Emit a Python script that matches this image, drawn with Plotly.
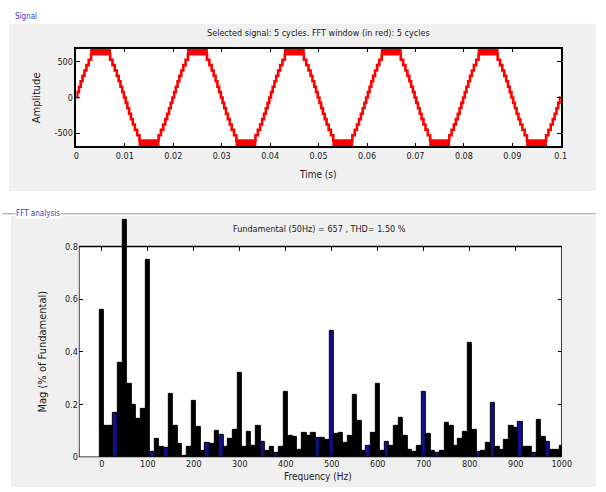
import plotly.graph_objects as go

# ---------------- signal: multilevel staircase, 5 cycles at 50 Hz ----------------
n_cycles = 5
f_fund = 50.0
step_volts = 76.0
# switching angles (deg) of the first quarter cycle, one per level (levels 1..8)
switch_deg = [3.2, 9.5, 16.0, 22.7, 29.8, 37.3, 45.8, 54.5]
# toggles between the two top levels near the crest (rising half of the crest)
peak_toggle_deg = [56.0, 57.4, 58.6, 60.2, 61.4, 63.0, 64.2, 66.0, 67.2,
                   69.0, 70.4, 73.5, 74.6, 78.5, 79.6, 84.5, 85.6]

# ---------------- FFT magnitudes (% of fundamental) every 10 Hz ----------------
freq_hz = list(range(0, 1001, 10))
mag_pct = [
    0.56, 0.12, 0.12, 0.17, 0.36, 0.90, 0.28, 0.20, 0.146, 0.184,
    0.75, 0.02, 0.07, 0.04, 0.035, 0.24, 0.12, 0.05, 0.004, 0.04,
    0.215, 0.115, 0.025, 0.055, 0.05, 0.10, 0.085, 0.04, 0.07, 0.105,
    0.32, 0.04, 0.095, 0.045, 0.12, 0.06, 0.023, 0.038, 0.018, 0.038,
    0.25, 0.083, 0.076, 0.03, 0.093, 0.083, 0.093, 0.072, 0.072, 0.067,
    0.48, 0.089, 0.093, 0.053, 0.083, 0.237, 0.137, 0.023, 0.045, 0.091,
    0.28, 0.023, 0.06, 0.045, 0.12, 0.15, 0.083, 0.03, 0.02, 0.045,
    0.25, 0.09, 0.023, 0.018, 0.023, 0.13, 0.12, 0.045, 0.07, 0.098,
    0.434, 0.105, 0.02, 0.023, 0.053, 0.206, 0.038, 0.03, 0.068, 0.12,
    0.11, 0.136, 0.038, 0.038, 0.016, 0.143, 0.076, 0.057, 0.03, 0.03,
    0.045,
]
blue_bins_hz = [30, 110, 140, 230, 260, 350, 380, 470, 500, 580,
                620, 700, 730, 820, 850, 910, 940, 970]

time_ticks = [0, 0.01, 0.02, 0.03, 0.04, 0.05, 0.06, 0.07, 0.08, 0.09, 0.1]
time_labels = ["0", "0.01", "0.02", "0.03", "0.04", "0.05", "0.06", "0.07", "0.08", "0.09", "0.1"]
amp_ticks = [-500, 0, 500]
freq_ticks = list(range(0, 1001, 100))
mag_ticks = [0, 0.2, 0.4, 0.6, 0.8]
mag_labels = ["0", "0.2", "0.4", "0.6", "0.8"]

title_signal = "Selected signal: 5 cycles. FFT window (in red): 5 cycles"
title_fft = "Fundamental (50Hz) = 657 , THD= 1.50 %"

# ---------------- build the staircase ----------------
quarter = [(0.0, 0)] + [(a, k + 1) for k, a in enumerate(switch_deg)]
top = len(switch_deg) + 1
for i, a in enumerate(peak_toggle_deg):
    quarter.append((a, top if i % 2 == 0 else top - 1))
half = list(quarter)
for i in range(len(quarter) - 2, -1, -1):
    half.append((180.0 - quarter[i + 1][0], quarter[i][1]))
cycle = half + [(180.0 + a, -lv) for a, lv in half]

t_sig, v_sig = [], []
for c in range(n_cycles):
    for a, lv in cycle:
        t_sig.append((c * 360.0 + a) / 360.0 / f_fund)
        v_sig.append(lv * step_volts)
t_sig.append(n_cycles / f_fund)
v_sig.append(v_sig[-1])

# ---------------- figure ----------------
W, H = 606, 492
FONT = "Liberation Sans Narrow, DejaVu Sans Condensed, Arial Narrow, Liberation Sans, sans-serif"
PANEL = "#f0f0f0"
TXT = "#1b1b1b"

fig = go.Figure()

fig.add_trace(go.Scatter(
    x=t_sig, y=v_sig, mode="lines", line=dict(color="#ff0000", width=2.6, shape="hv"),
    xaxis="x", yaxis="y", hoverinfo="skip", showlegend=False))

bar_colors = ["#10108c" if f in blue_bins_hz else "#000000" for f in freq_hz]
fig.add_trace(go.Bar(
    x=freq_hz, y=mag_pct, width=10, marker=dict(color=bar_colors, line=dict(color="#000000", width=1)),
    xaxis="x2", yaxis="y2", hoverinfo="skip", showlegend=False))

# carrier for the top tick row of the spectrum frame
fig.add_trace(go.Scatter(x=[0], y=[0], mode="markers", marker=dict(opacity=0),
                         xaxis="x3", yaxis="y2", hoverinfo="skip", showlegend=False))

def px_x(p):
    return p / W

def px_y(p):
    return 1 - p / H

tick_font = dict(family=FONT, size=9, color=TXT)
axis_common = dict(ticks="inside", ticklen=4, tickwidth=1, tickcolor="#000", showgrid=False,
                   zeroline=False, tickfont=tick_font)

y_fft_top = 0.92  # room for the fundamental bar above the frame

fig.update_layout(
    width=W, height=H, margin=dict(l=0, r=0, t=0, b=0),
    paper_bgcolor="#ffffff", plot_bgcolor="rgba(0,0,0,0)",
    bargap=0, showlegend=False,
    xaxis=dict(domain=[px_x(75), px_x(570)], range=[0, 0.1], anchor="y",
               tickvals=time_ticks, ticktext=time_labels,
               showline=True, linecolor="#000", linewidth=1.5, mirror="ticks", **axis_common),
    yaxis=dict(domain=[px_y(148), px_y(49)], range=[-690, 690], anchor="x",
               tickvals=amp_ticks, ticktext=["-500", "0", "500"],
               showline=True, linecolor="#000", linewidth=1.5, mirror="ticks", **axis_common),
    xaxis2=dict(domain=[px_x(77.5), px_x(571)], range=[-50, 1000], anchor="y2",
                tickvals=freq_ticks, ticktext=[str(v) for v in freq_ticks],
                showline=False, **axis_common),
    yaxis2=dict(domain=[px_y(462), px_y(462 - y_fft_top * 266.25)], range=[0, y_fft_top], anchor="x2",
                tickvals=mag_ticks, ticktext=mag_labels,
                showline=False, mirror="ticks", **axis_common),
    xaxis3=dict(overlaying="x2", anchor="free", position=px_y(249), side="top",
                range=[-50, 1000], tickvals=freq_ticks, showticklabels=False,
                showline=False, ticks="inside", ticklen=4, tickcolor="#000",
                showgrid=False, zeroline=False),
)

shapes = [
    # panel backgrounds
    dict(type="rect", xref="paper", yref="paper", x0=px_x(6), x1=1, y0=px_y(193), y1=px_y(24),
         fillcolor=PANEL, line=dict(width=0), layer="below"),
    dict(type="rect", xref="paper", yref="paper", x0=px_x(8), x1=1, y0=0, y1=px_y(218),
         fillcolor=PANEL, line=dict(width=0), layer="below"),
    dict(type="line", xref="paper", yref="paper", x0=0, x1=1, y0=px_y(216), y1=px_y(216),
         line=dict(color="#9a9a9a", width=1), layer="below"),
    # white plotting areas
    dict(type="rect", xref="x domain", yref="y domain", x0=0, x1=1, y0=0, y1=1,
         fillcolor="#ffffff", line=dict(width=0), layer="below"),
    dict(type="rect", xref="x2", yref="y2", x0=-50, x1=1000, y0=0, y1=0.8,
         fillcolor="#ffffff", line=dict(color="#000", width=1.5), layer="below"),
]
fig.update_layout(shapes=shapes)

label_font = dict(family=FONT, size=9, color=TXT)
annotations = [
    dict(text="Signal", x=px_x(10), y=px_y(17), xanchor="left", yanchor="middle",
         font=dict(family=FONT, size=8, color="#3a3ad0")),
    dict(text="FFT analysis", x=px_x(12), y=px_y(216), xanchor="left", yanchor="middle",
         font=dict(family=FONT, size=8, color="#3a3ad0"), bgcolor="#ffffff", borderpad=0),
    dict(text=title_signal, x=px_x(322), y=px_y(33), xanchor="center", yanchor="middle",
         font=label_font),
    dict(text=title_fft, x=px_x(323), y=px_y(231), xanchor="center", yanchor="middle",
         font=label_font),
    dict(text="Time (s)", x=px_x(322), y=px_y(176), xanchor="center", yanchor="middle",
         font=dict(family=FONT, size=10, color=TXT)),
    dict(text="Frequency (Hz)", x=px_x(322), y=px_y(481), xanchor="center", yanchor="middle",
         font=dict(family=FONT, size=10, color=TXT)),
    dict(text="Amplitude", x=px_x(35), y=px_y(99), xanchor="center", yanchor="middle",
         textangle=-90, font=dict(family=FONT, size=11, color=TXT)),
    dict(text="Mag (% of Fundamental)", x=px_x(40), y=px_y(355), xanchor="center", yanchor="middle",
         textangle=-90, font=dict(family=FONT, size=11, color=TXT)),
]
for a in annotations:
    a.update(xref="paper", yref="paper", showarrow=False)
fig.update_layout(annotations=annotations)

# keep the page flush with the window so the figure is not shifted by body margins or scrollbars
page_fix = "document.body.style.margin='0';document.body.style.overflow='hidden';"
fig.write_html("out.html", post_script=page_fix)
